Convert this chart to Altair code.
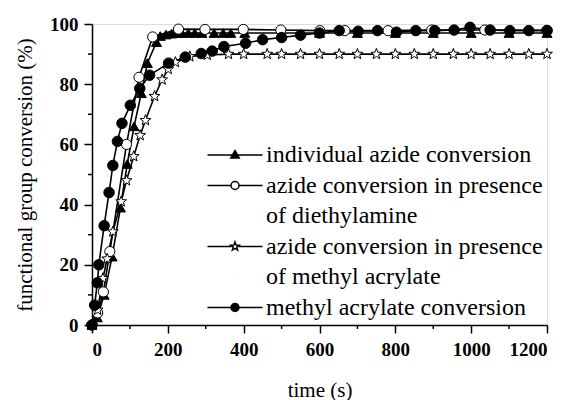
import altair as alt
import pandas as pd

# ---- data ----
series_names = [
    "individual azide conversion",
    "azide conversion in presence of diethylamine",
    "azide conversion in presence of methyl acrylate",
    "methyl acrylate conversion",
]

t_tri = [0, 14, 32, 53, 75, 93, 111, 130, 146, 170, 180, 195, 210, 222, 237, 254, 271, 290,
         322, 346, 366, 403, 500, 600, 700, 800, 900, 1000, 1100, 1200]
v_tri = [0, 2.5, 10, 22.7, 39, 53.5, 66, 77, 87, 94, 96, 96.5, 96.8, 97, 97, 97, 97, 97,
         97, 97, 97, 97, 97, 97, 97, 97, 97, 97, 97, 97]

t_ocirc = [0, 15, 30, 47, 91, 124, 160, 228, 298, 399, 498, 601, 667, 781, 896, 1036, 1200]
v_ocirc = [0, 4, 11, 24.4, 60, 82.3, 95.7, 98.3, 98.2, 98.2, 98, 97.8, 97.8, 97.8, 98, 98, 97.9]

t_star = [0, 15, 29, 40, 55, 77, 91, 110, 127, 141, 165, 185, 201, 220, 258, 304, 360, 400,
          462, 500, 550, 600, 652, 700, 750, 800, 850, 900, 953, 1000, 1050, 1100, 1152, 1200]
v_star = [0, 5, 15.5, 22, 31, 41, 48, 56, 63, 68, 76, 81.5, 85, 87.3, 89.2, 89.7, 90, 90,
          90, 90, 90, 90, 90, 90, 90, 90, 90, 90, 90, 90, 90, 90, 90, 90]

t_fcirc = [0, 7, 14, 18, 32, 45, 55, 67, 79, 101, 126, 152, 202, 246, 288, 317, 348, 405,
           450, 500, 550, 600, 652, 702, 753, 803, 854, 904, 955, 997, 1050, 1102, 1152, 1200]
v_fcirc = [0, 6.6, 14, 20, 33, 44, 53, 61, 67, 73, 78.6, 83, 87, 89, 90.2, 91, 92.5, 93.6,
           94.8, 95.5, 96.3, 97, 97.8, 97.6, 97.8, 97.3, 97.8, 97.8, 98, 98.9, 98, 97.8, 97.8, 97.8]

legend_labels = [
    "individual azide conversion",
    "azide conversion in presence",
    "of diethylamine",
    "azide conversion in presence",
    "of methyl acrylate",
    "methyl acrylate conversion",
]

x_major = [0, 200, 400, 600, 800, 1000, 1200]
x_minor = [100, 300, 500, 700, 900, 1100]
y_major = [0, 20, 40, 60, 80, 100]
y_minor = [10, 30, 50, 70, 90]

# ---- build tables ----
rows = []
for name, ts, vs in zip(series_names,
                        [t_tri, t_ocirc, t_star, t_fcirc],
                        [v_tri, v_ocirc, v_star, v_fcirc]):
    for t, v in zip(ts, vs):
        rows.append({"series": name, "t": t, "v": v})
df = pd.DataFrame(rows)

legend_keys = [f"{i}|{lab}" for i, lab in enumerate(legend_labels)]
legend_df = pd.DataFrame({"key": legend_keys})
xminor_df = pd.DataFrame({"t": x_minor})
yminor_df = pd.DataFrame({"v": y_minor})

FONT = "Liberation Serif"

star_big = ("M0,-1.1L0.27,-0.372L1.046,-0.34L0.437,0.142L0.647,0.89L0,0.46"
            "L-0.647,0.89L-0.437,0.142L-1.046,-0.34L-0.27,-0.372Z")
tri = "M0,-0.9L0.85,0.6L-0.85,0.6Z"
circ = "M0.8,0A0.8,0.8,0,1,1,-0.8,0A0.8,0.8,0,1,1,0.8,0Z"
star = ("M0,-0.9L0.223,-0.307L0.856,-0.278L0.361,0.117L0.529,0.728L0,0.38"
        "L-0.529,0.728L-0.361,0.117L-0.856,-0.278L-0.223,-0.307Z")
blank = "M0,0L0.01,0"
legend_paths = [
    "M-5.5,0H5.5" + tri,
    "M-5.5,0H-0.8M0.8,0H5.5" + circ,
    blank,
    "M-5.5,0H-0.75M0.75,0H5.5" + star,
    blank,
    "M-5.5,0H5.5" + circ,
]
legend_fills = ["black", "white", "white", "white", "white", "black"]
legend_strokes = ["black"] * 6

x_scale = alt.Scale(domain=[0, 1200], nice=False)
y_scale = alt.Scale(domain=[0, 100], nice=False)

x_axis = alt.Axis(values=x_major, tickSize=8, labelPadding=7, title="time (s)",
                  titlePadding=20, format="d")
y_axis = alt.Axis(values=y_major, tickSize=8, labelPadding=6,
                  title="functional group conversion (%)", titlePadding=14, format="d")

lines = alt.Chart(df).mark_line(color="black", strokeWidth=1.6).encode(
    x=alt.X("t:Q", scale=x_scale, axis=x_axis),
    y=alt.Y("v:Q", scale=y_scale, axis=y_axis),
    detail="series:N",
)

points = alt.Chart(df).mark_point(filled=False, strokeWidth=1, opacity=1, stroke="black").encode(
    x=alt.X("t:Q"),
    y=alt.Y("v:Q"),
    shape=alt.Shape("series:N", scale=alt.Scale(domain=series_names,
                    range=["triangle-up", "circle", star_big, "circle"]), legend=None),
    fill=alt.Fill("series:N", scale=alt.Scale(domain=series_names,
                  range=["black", "white", "white", "black"]), legend=None),
    size=alt.Size("series:N", scale=alt.Scale(domain=series_names,
                  range=[100, 110, 110, 105]), legend=None),
)

xminor = alt.Chart(xminor_df).mark_rule(color="black", strokeWidth=1.5).encode(
    x=alt.X("t:Q"), y=alt.value(301), y2=alt.value(305),
)
yminor = alt.Chart(yminor_df).mark_rule(color="black", strokeWidth=1.5).encode(
    y=alt.Y("v:Q"), x=alt.value(0), x2=alt.value(-4),
)

leg = alt.Legend(orient="none", legendX=131, legendY=119, title=None, padding=0,
                 labelOffset=19, labelLimit=500, labelBaseline="middle", symbolSize=100,
                 symbolStrokeColor="black", symbolStrokeWidth=1.5, symbolOpacity=1,
                 rowPadding=6.5, labelExpr="split(datum.label, '|')[1]",
                 labelFont=FONT, labelFontSize=24, labelColor="black")

legend_layer = alt.Chart(legend_df).mark_point(opacity=0, strokeWidth=1.5).encode(
    x=alt.value(0), y=alt.value(0),
    shape=alt.Shape("key:N", scale=alt.Scale(domain=legend_keys, range=legend_paths), legend=leg),
    fill=alt.Fill("key:N", scale=alt.Scale(domain=legend_keys, range=legend_fills), legend=leg),
    stroke=alt.Stroke("key:N", scale=alt.Scale(domain=legend_keys, range=legend_strokes), legend=leg),
)

chart = alt.layer(lines, points, xminor, yminor, legend_layer).resolve_scale(
    shape="independent", fill="independent", size="independent", stroke="independent"
).properties(
    width=455, height=301,
    padding={"left": 84, "top": 16, "right": 15, "bottom": 75},
    autosize=alt.AutoSizeParams(type="none"),
).configure_view(stroke=None).configure(background="white").configure_axis(
    domainColor="black", domainWidth=1.5, tickColor="black", tickWidth=1.5,
    grid=False, labelFont=FONT, labelFontWeight="bold", labelFontSize=19,
    labelColor="black", titleFont=FONT, titleFontSize=21,
    titleFontWeight="normal", titleColor="black",
)

chart.save("out.html", embed_options={"renderer": "svg", "actions": False})
